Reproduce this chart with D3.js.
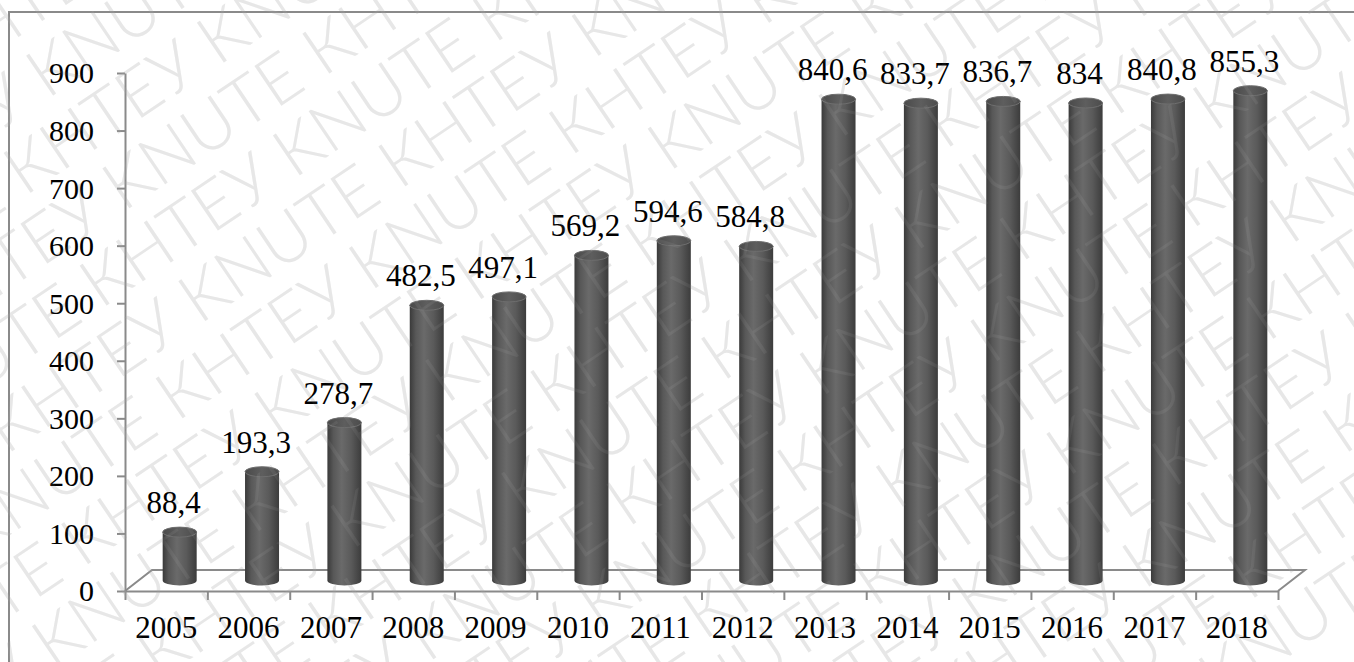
<!DOCTYPE html>
<html>
<head>
<meta charset="utf-8">
<script src="https://cdn.jsdelivr.net/npm/d3@7"></script>
<style>
  html, body { margin: 0; padding: 0; background: #fff; }
  svg { display: block; }
</style>
</head>
<body>
<div id="chart"></div>
<script>
// Data
const years = ['2005', '2006', '2007', '2008', '2009', '2010', '2011',
  '2012', '2013', '2014', '2015', '2016', '2017', '2018'];
const values = [88.4, 193.3, 278.7, 482.5, 497.1, 569.2, 594.6,
  584.8, 840.6, 833.7, 836.7, 834, 840.8, 855.3];
const yTicks = [0, 100, 200, 300, 400, 500, 600, 700, 800, 900];
const watermarkWords = ['КНТЕУ', 'KNUTE'];

const W = 1354;
const H = 662;
const serif = '"Liberation Serif", "Times New Roman", Times, serif';

// floor depth (3D offset) and cylinder size
const depth = { dx: 27, dy: -21 };
const rx = 17;
const ry = 5;

const svg = d3.select('#chart')
  .append('svg')
  .attr('width', W)
  .attr('height', H);

const defs = svg.append('defs');

defs.append('clipPath')
  .attr('id', 'page')
  .append('rect')
  .attr('width', W)
  .attr('height', H);

const bodyGrad = defs.append('linearGradient')
  .attr('id', 'cylBody')
  .attr('x1', '0%').attr('x2', '100%')
  .attr('y1', '0%').attr('y2', '0%');
[[0, '#3a3a3a'], [0.18, '#585858'], [0.42, '#6a6a6a'], [0.7, '#5a5a5a'], [1, '#3c3c3c']]
  .forEach(([o, c]) => bodyGrad.append('stop').attr('offset', o).attr('stop-color', c));

const topGrad = defs.append('linearGradient')
  .attr('id', 'cylTop')
  .attr('x1', '0%').attr('x2', '100%')
  .attr('y1', '0%').attr('y2', '0%');
[[0, '#4a4a4a'], [0.5, '#5e5e5e'], [1, '#4c4c4c']]
  .forEach(([o, c]) => topGrad.append('stop').attr('offset', o).attr('stop-color', c));

// Watermark rows
const drawWatermark = (fill, opacity) => {
  const g = svg.append('g')
    .attr('clip-path', 'url(#page)')
    .append('g')
    .attr('transform', `translate(${W / 2}, ${H / 2}) rotate(-34)`)
    .attr('opacity', opacity);
  const row = d3.range(8).map(i => watermarkWords[i % 2]).join(' ');
  d3.range(-9, 10).forEach((r) => {
    g.append('text')
      .attr('x', -1100 + (r % 2 === 0 ? 0 : 160))
      .attr('y', r * 68)
      .style('font-family', 'Lato, "Open Sans", "Liberation Sans", Arial, sans-serif')
      .style('font-weight', 300)
      .style('font-size', '68px')
      .style('fill', fill)
      .text(row + ' ' + row);
  });
};

drawWatermark('#e6e6e6', 1);

// Outer frame
svg.append('rect')
  .attr('x', 9)
  .attr('y', 12)
  .attr('width', W + 20)
  .attr('height', H + 20)
  .attr('fill', 'none')
  .attr('stroke', '#8a8a8a')
  .attr('stroke-width', 2);

// Scales
const x = d3.scaleBand().domain(years).range([125, 1278]);
const y = d3.scaleLinear().domain([0, 900]).range([591, 73]);
const xb = d3.scaleLinear().domain([0, years.length]).range([125, 1278]);

// Floor
const x0 = x.range()[0];
const x1 = x.range()[1];
const y0 = y(0);
svg.append('path')
  .attr('d', `M${x0},${y0} L${x0 + depth.dx},${y0 + depth.dy} L${x1 + depth.dx},${y0 + depth.dy} L${x1},${y0}`)
  .attr('fill', 'none')
  .attr('stroke', '#8a8a8a')
  .attr('stroke-width', 2);

// Y axis
const yAxis = svg.append('g')
  .attr('transform', `translate(${x0}, 0)`)
  .call(d3.axisLeft(y).tickValues(yTicks).tickSize(8).tickPadding(23).tickSizeOuter(0));
yAxis.select('.domain').attr('stroke', '#8a8a8a').attr('stroke-width', 2);
yAxis.selectAll('.tick line').attr('stroke', '#8a8a8a').attr('stroke-width', 2);
yAxis.selectAll('.tick text')
  .style('font-family', serif)
  .style('font-size', '30px')
  .style('fill', '#000')
  .attr('dy', '0.33em');

// X axis: boundary ticks
const xTicks = svg.append('g')
  .attr('transform', `translate(0, ${y0})`)
  .call(d3.axisBottom(xb).tickValues(d3.range(years.length + 1)).tickSize(9).tickFormat('').tickSizeOuter(0));
xTicks.select('.domain').attr('stroke', '#8a8a8a').attr('stroke-width', 2);
xTicks.selectAll('.tick line').attr('stroke', '#8a8a8a').attr('stroke-width', 2);

// X axis labels
svg.append('g')
  .selectAll('text')
  .data(years)
  .join('text')
  .attr('x', d => x(d) + x.bandwidth() / 2)
  .attr('y', 638)
  .attr('text-anchor', 'middle')
  .style('font-family', serif)
  .style('font-size', '31px')
  .style('fill', '#000')
  .text(d => d);

// Cylinders
const data = years.map((yr, i) => ({ year: yr, value: values[i] }));
const cx = d => x(d.year) + x.bandwidth() / 2 + depth.dx / 2;
const baseY = y0 + depth.dy / 2;
const topY = d => y(d.value) - 8;

const bars = svg.append('g')
  .selectAll('g')
  .data(data)
  .join('g');

bars.append('path')
  .attr('d', (d) => {
    const c = cx(d);
    const t = topY(d);
    return `M${c - rx},${t} L${c - rx},${baseY} A${rx},${ry} 0 0 0 ${c + rx},${baseY} L${c + rx},${t} Z`;
  })
  .attr('fill', 'url(#cylBody)');

bars.append('ellipse')
  .attr('cx', cx)
  .attr('cy', topY)
  .attr('rx', rx)
  .attr('ry', ry)
  .attr('fill', 'url(#cylTop)')
  .attr('stroke', '#6e6e6e')
  .attr('stroke-width', 1);

// Value labels
const fmt = v => (Number.isInteger(v) ? String(v) : v.toFixed(1).replace('.', ','));
bars.append('text')
  .attr('x', d => cx(d) - 6)
  .attr('y', d => topY(d) - ry - 14)
  .attr('text-anchor', 'middle')
  .style('font-family', serif)
  .style('font-size', '31px')
  .style('fill', '#000')
  .text(d => fmt(d.value));

// faint watermark over the marks
drawWatermark('#ffffff', 0.06);
</script>
</body>
</html>
